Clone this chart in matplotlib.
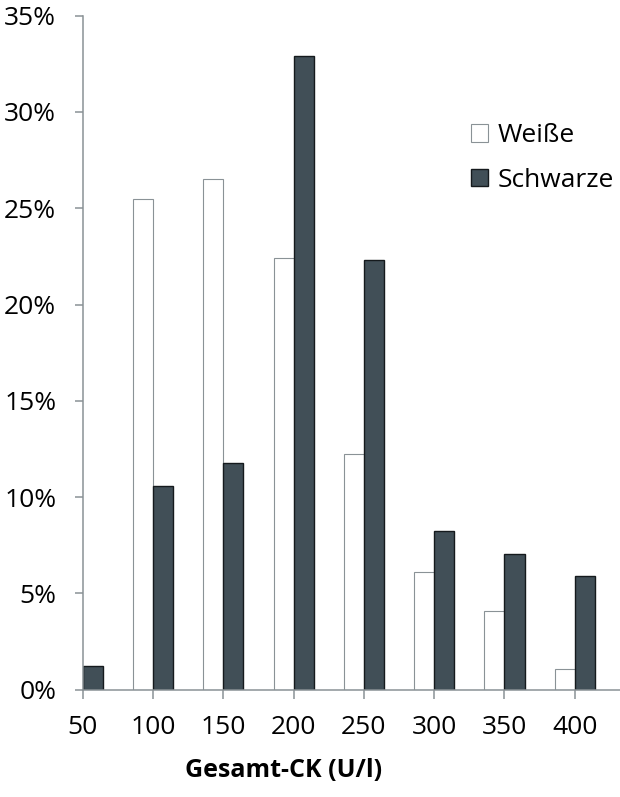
import matplotlib
matplotlib.use("Agg")
import matplotlib.pyplot as plt
import numpy as np

categories = ["50", "100", "150", "200", "250", "300", "350", "400"]
weisse = [0.0, 25.46, 26.52, 22.43, 12.24, 6.11, 4.10, 1.06]
schwarze = [1.21, 10.59, 11.77, 32.9, 22.31, 8.24, 7.03, 5.89]
yticks = [0, 5, 10, 15, 20, 25, 30, 35]
series_labels = ["Weiße", "Schwarze"]
xlabel = "Gesamt-CK (U/l)"

plt.rcParams['font.family'] = ['Open Sans', 'DejaVu Sans']

W, H = 620, 797
fig = plt.figure(figsize=(W / 100, H / 100), dpi=100)
left, right = 82.7, 620.0
top, bottom = 15.7, 689.7
ax = fig.add_axes([left / W, 1 - bottom / H, (right - left) / W, (bottom - top) / H])

axis_gray = "#8a9296"
dark = "#414f57"
x = np.arange(len(categories))
bw = 0.2845

b1 = ax.bar(x - bw, weisse, width=bw, align='edge', color='white',
            edgecolor=axis_gray, linewidth=0.8, label=series_labels[0])
b2 = ax.bar(x, schwarze, width=bw, align='edge', color=dark,
            edgecolor='#151a1d', linewidth=1.0, label=series_labels[1])

ax.set_xlim(0, (right - left) / 70.3)
ax.set_ylim(0, 35)
ax.set_xticks(x)
ax.set_xticklabels(categories)
ax.set_yticks(yticks)
ax.set_yticklabels([f"{v}%" for v in yticks])

for s in ['top', 'right']:
    ax.spines[s].set_visible(False)
for s in ['left', 'bottom']:
    ax.spines[s].set_color(axis_gray)
    ax.spines[s].set_linewidth(1.1)

ax.tick_params(axis='y', direction='out', length=6, width=1.1, color=axis_gray,
               labelsize=19, pad=13, labelcolor='black')
ax.tick_params(axis='x', direction='out', length=6.5, width=1.1, color=axis_gray,
               labelsize=19, pad=12, labelcolor='black')

ax.set_xlabel(xlabel, fontsize=18, fontweight='bold')
ax.xaxis.set_label_coords((283.5 - left) / (right - left), -(777 - bottom) / (bottom - top))
ax.xaxis.label.set_va('baseline')

leg = ax.legend(handles=[b1, b2], loc='upper left',
                bbox_to_anchor=(471 / W, 1 - 123 / H), bbox_transform=fig.transFigure,
                frameon=False, fontsize=19, handlelength=0.66, handleheight=0.66,
                handletextpad=0.35, labelspacing=0.75, borderpad=0, borderaxespad=0)

fig.savefig("out.png", dpi=100)
